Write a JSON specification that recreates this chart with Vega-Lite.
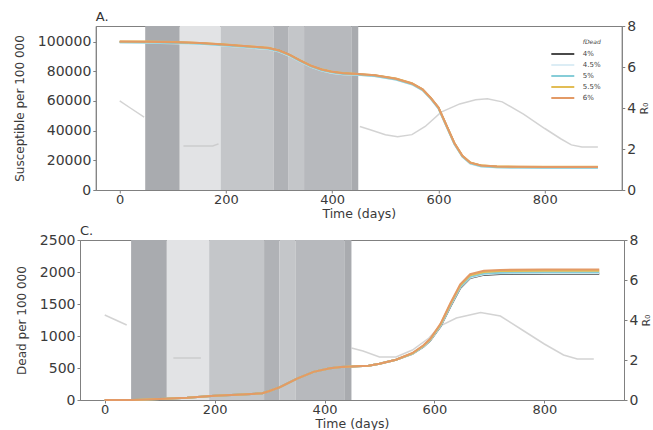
{
  "$schema": "https://vega.github.io/schema/vega-lite/v6.json",
  "padding": {"left": 12, "top": 10, "right": 0, "bottom": 0},
  "background": "white",
  "spacing": 4,
  "center": true,
  "datasets": {
    "bands": [
      {"start": 48, "end": 113, "level": "L5"},
      {"start": 113, "end": 190, "level": "L1"},
      {"start": 190, "end": 290, "level": "L2"},
      {"start": 290, "end": 318, "level": "L4"},
      {"start": 318, "end": 347, "level": "L2"},
      {"start": 347, "end": 436, "level": "L3"},
      {"start": 436, "end": 449, "level": "L5"}
    ],
    "susc": [
      {"day": 0, "p4": 99800, "p45": 99300, "p5": 99500, "p55": 100100, "p6": 100000},
      {"day": 50, "p4": 99700, "p45": 99200, "p5": 99400, "p55": 100000, "p6": 99900},
      {"day": 100, "p4": 99400, "p45": 98900, "p5": 99100, "p55": 99700, "p6": 99600},
      {"day": 130, "p4": 99100, "p45": 98600, "p5": 98800, "p55": 99400, "p6": 99300},
      {"day": 160, "p4": 98600, "p45": 98100, "p5": 98300, "p55": 98900, "p6": 98800},
      {"day": 200, "p4": 97700, "p45": 97200, "p5": 97400, "p55": 98000, "p6": 97900},
      {"day": 240, "p4": 96600, "p45": 96100, "p5": 96300, "p55": 96900, "p6": 96800},
      {"day": 280, "p4": 95500, "p45": 95000, "p5": 95200, "p55": 95800, "p6": 95700},
      {"day": 300, "p4": 93800, "p45": 93300, "p5": 93500, "p55": 94100, "p6": 94000},
      {"day": 320, "p4": 90800, "p45": 90300, "p5": 90500, "p55": 91100, "p6": 91000},
      {"day": 340, "p4": 87000, "p45": 86500, "p5": 86700, "p55": 87300, "p6": 87200},
      {"day": 360, "p4": 83500, "p45": 83000, "p5": 83200, "p55": 83800, "p6": 83700},
      {"day": 380, "p4": 81000, "p45": 80500, "p5": 80700, "p55": 81300, "p6": 81200},
      {"day": 400, "p4": 79400, "p45": 78900, "p5": 79100, "p55": 79700, "p6": 79600},
      {"day": 420, "p4": 78500, "p45": 78000, "p5": 78200, "p55": 78800, "p6": 78700},
      {"day": 449, "p4": 77900, "p45": 77400, "p5": 77600, "p55": 78200, "p6": 78100},
      {"day": 480, "p4": 77100, "p45": 76600, "p5": 76800, "p55": 77400, "p6": 77300},
      {"day": 520, "p4": 74800, "p45": 74300, "p5": 74500, "p55": 75100, "p6": 75000},
      {"day": 550, "p4": 71600, "p45": 71100, "p5": 71300, "p55": 71900, "p6": 71800},
      {"day": 570, "p4": 67600, "p45": 67100, "p5": 67300, "p55": 67900, "p6": 67800},
      {"day": 585, "p4": 62000, "p45": 61500, "p5": 61700, "p55": 62300, "p6": 62200},
      {"day": 600, "p4": 55300, "p45": 54800, "p5": 55000, "p55": 55600, "p6": 55500},
      {"day": 615, "p4": 43300, "p45": 42800, "p5": 43000, "p55": 43600, "p6": 43500},
      {"day": 630, "p4": 31300, "p45": 30800, "p5": 31000, "p55": 31600, "p6": 31500},
      {"day": 645, "p4": 22800, "p45": 22300, "p5": 22500, "p55": 23100, "p6": 23000},
      {"day": 660, "p4": 18200, "p45": 17700, "p5": 17900, "p55": 18500, "p6": 18400},
      {"day": 680, "p4": 16300, "p45": 15800, "p5": 16000, "p55": 16600, "p6": 16500},
      {"day": 710, "p4": 15600, "p45": 15100, "p5": 15300, "p55": 15900, "p6": 15800},
      {"day": 750, "p4": 15400, "p45": 14900, "p5": 15100, "p55": 15700, "p6": 15600},
      {"day": 800, "p4": 15300, "p45": 14800, "p5": 15000, "p55": 15600, "p6": 15500},
      {"day": 900, "p4": 15300, "p45": 14800, "p5": 15000, "p55": 15600, "p6": 15500}
    ],
    "dead": [
      {"day": 0, "p4": 0, "p45": 0, "p5": 0, "p55": 0, "p6": 0},
      {"day": 50, "p4": 0, "p45": 0, "p5": 0, "p55": 0, "p6": 0},
      {"day": 100, "p4": 15, "p45": 15, "p5": 15, "p55": 15, "p6": 15},
      {"day": 150, "p4": 35, "p45": 35, "p5": 35, "p55": 35, "p6": 35},
      {"day": 175, "p4": 52, "p45": 52, "p5": 52, "p55": 52, "p6": 52},
      {"day": 200, "p4": 65, "p45": 65, "p5": 65, "p55": 65, "p6": 65},
      {"day": 250, "p4": 85, "p45": 85, "p5": 85, "p55": 85, "p6": 85},
      {"day": 287, "p4": 105, "p45": 105, "p5": 105, "p55": 105, "p6": 105},
      {"day": 300, "p4": 140, "p45": 140, "p5": 140, "p55": 140, "p6": 140},
      {"day": 320, "p4": 205, "p45": 205, "p5": 205, "p55": 205, "p6": 205},
      {"day": 350, "p4": 335, "p45": 335, "p5": 335, "p55": 335, "p6": 335},
      {"day": 380, "p4": 440, "p45": 440, "p5": 440, "p55": 440, "p6": 440},
      {"day": 410, "p4": 495, "p45": 495, "p5": 495, "p55": 495, "p6": 495},
      {"day": 430, "p4": 515, "p45": 515, "p5": 515, "p55": 515, "p6": 515},
      {"day": 449, "p4": 522, "p45": 522, "p5": 522, "p55": 522, "p6": 522},
      {"day": 480, "p4": 535, "p45": 535, "p5": 535, "p55": 535, "p6": 535},
      {"day": 500, "p4": 565, "p45": 565, "p5": 565, "p55": 565, "p6": 565},
      {"day": 530, "p4": 630, "p45": 630, "p5": 630, "p55": 630, "p6": 630},
      {"day": 560, "p4": 720, "p45": 722, "p5": 725, "p55": 730, "p6": 735},
      {"day": 580, "p4": 832, "p45": 836, "p5": 840, "p55": 848, "p6": 855},
      {"day": 592, "p4": 925, "p45": 930, "p5": 935, "p55": 945, "p6": 952},
      {"day": 611, "p4": 1150, "p45": 1158, "p5": 1165, "p55": 1180, "p6": 1190},
      {"day": 629, "p4": 1462, "p45": 1472, "p5": 1480, "p55": 1498, "p6": 1512},
      {"day": 647, "p4": 1750, "p45": 1760, "p5": 1770, "p55": 1792, "p6": 1808},
      {"day": 665, "p4": 1905, "p45": 1915, "p5": 1925, "p55": 1948, "p6": 1966},
      {"day": 690, "p4": 1955, "p45": 1965, "p5": 1975, "p55": 2000, "p6": 2018},
      {"day": 720, "p4": 1968, "p45": 1980, "p5": 1990, "p55": 2015, "p6": 2033},
      {"day": 800, "p4": 1974, "p45": 1985, "p5": 1995, "p55": 2020, "p6": 2039},
      {"day": 900, "p4": 1974, "p45": 1985, "p5": 1995, "p55": 2020, "p6": 2039}
    ],
    "r0top": [
      {"day": 0, "r0": 4.35, "seg": "a"},
      {"day": 20, "r0": 4.0, "seg": "a"},
      {"day": 46, "r0": 3.55, "seg": "a"},
      {"day": 120, "r0": 2.15, "seg": "b"},
      {"day": 175, "r0": 2.15, "seg": "b"},
      {"day": 186, "r0": 2.25, "seg": "b"},
      {"day": 452, "r0": 3.1, "seg": "c"},
      {"day": 470, "r0": 2.95, "seg": "c"},
      {"day": 500, "r0": 2.7, "seg": "c"},
      {"day": 523, "r0": 2.6, "seg": "c"},
      {"day": 550, "r0": 2.7, "seg": "c"},
      {"day": 575, "r0": 3.1, "seg": "c"},
      {"day": 605, "r0": 3.8, "seg": "c"},
      {"day": 640, "r0": 4.2, "seg": "c"},
      {"day": 670, "r0": 4.4, "seg": "c"},
      {"day": 692, "r0": 4.45, "seg": "c"},
      {"day": 720, "r0": 4.3, "seg": "c"},
      {"day": 760, "r0": 3.7, "seg": "c"},
      {"day": 800, "r0": 3.0, "seg": "c"},
      {"day": 830, "r0": 2.5, "seg": "c"},
      {"day": 850, "r0": 2.2, "seg": "c"},
      {"day": 870, "r0": 2.1, "seg": "c"},
      {"day": 900, "r0": 2.1, "seg": "c"}
    ],
    "r0bot": [
      {"day": 0, "r0": 4.25, "seg": "a"},
      {"day": 40, "r0": 3.75, "seg": "a"},
      {"day": 125, "r0": 2.1, "seg": "b"},
      {"day": 175, "r0": 2.1, "seg": "b"},
      {"day": 449, "r0": 2.6, "seg": "c"},
      {"day": 470, "r0": 2.45, "seg": "c"},
      {"day": 500, "r0": 2.15, "seg": "c"},
      {"day": 530, "r0": 2.15, "seg": "c"},
      {"day": 560, "r0": 2.5, "seg": "c"},
      {"day": 590, "r0": 3.1, "seg": "c"},
      {"day": 610, "r0": 3.7, "seg": "c"},
      {"day": 640, "r0": 4.1, "seg": "c"},
      {"day": 684, "r0": 4.37, "seg": "c"},
      {"day": 720, "r0": 4.2, "seg": "c"},
      {"day": 760, "r0": 3.5, "seg": "c"},
      {"day": 800, "r0": 2.8, "seg": "c"},
      {"day": 835, "r0": 2.25, "seg": "c"},
      {"day": 860, "r0": 2.05, "seg": "c"},
      {"day": 890, "r0": 2.05, "seg": "c"}
    ]
  },
  "resolve": {"legend": {"color": "independent"}},
  "vconcat": [
    {
      "width": 526,
      "height": 164,
      "title": {"text": "A.", "anchor": "start", "frame": "group", "fontSize": 13, "fontWeight": "normal", "font": "DejaVu Sans", "color": "#333", "offset": -5},
      "resolve": {"scale": {"y": "independent"}},
      "layer": [
        {
          "data": {"name": "bands"},
          "mark": {"type": "rect", "strokeWidth": 0},
          "encoding": {
            "x": {"field": "start", "type": "quantitative", "scale": {"domain": [-45, 945], "nice": false, "zero": false}, "title": "Time (days)", "axis": {"values": [0, 200, 400, 600, 800]}},
            "x2": {"field": "end"},
            "fill": {"field": "level", "type": "nominal", "scale": {"domain": ["L1", "L2", "L3", "L4", "L5"], "range": ["#e2e3e5", "#c4c6c9", "#b7b9bd", "#b0b2b6", "#a9abaf"]}, "legend": null}
          }
        },
        {
          "data": {"name": "r0top"},
          "mark": {"type": "line", "color": "#c4c4c4", "strokeWidth": 1.5, "opacity": 0.75},
          "encoding": {
            "x": {"field": "day", "type": "quantitative", "scale": {"domain": [-45, 945], "nice": false, "zero": false}, "title": "Time (days)"},
            "y": {"field": "r0", "type": "quantitative", "scale": {"domain": [0, 8], "nice": false}, "title": "R₀", "axis": {"orient": "right", "values": [0, 2, 4, 6, 8], "titleAngle": 270, "titleBaseline": "top", "titlePadding": 3, "titleFontSize": 11}},
            "detail": {"field": "seg", "type": "nominal"}
          }
        },
        {
          "data": {"name": "susc"},
          "transform": [{"fold": ["p4", "p45", "p5", "p55", "p6"], "as": ["fdead", "S"]}],
          "mark": {"type": "line", "strokeWidth": 2},
          "encoding": {
            "x": {"field": "day", "type": "quantitative", "scale": {"domain": [-45, 945], "nice": false, "zero": false}, "title": "Time (days)"},
            "y": {"field": "S", "type": "quantitative", "scale": {"domain": [0, 110500], "nice": false}, "title": "Susceptible per 100 000", "axis": {"orient": "left", "values": [0, 20000, 40000, 60000, 80000, 100000], "format": "d", "titlePadding": 11}},
            "color": {"field": "fdead", "type": "nominal", "scale": {"domain": ["p4", "p45", "p5", "p55", "p6"], "range": ["#4a4a4a", "#dcedf5", "#86cdd8", "#e2bd55", "#e39a66"]},
              "legend": {"orient": "none", "legendX": 460, "legendY": 13, "title": "fDead", "titleAnchor": "end", "titleFontSize": 6, "titleFontStyle": "italic", "titleFontWeight": "normal", "titleColor": "#444", "titlePadding": 2, "labelFontSize": 7, "labelColor": "#444", "labelFont": "DejaVu Sans", "symbolType": "M-2,0H2", "symbolSize": 132, "symbolStrokeWidth": 2, "symbolFillColor": "transparent", "labelOffset": 13, "rowPadding": 0, "padding": 0,
                "labelExpr": "{'p4': '4%', 'p45': '4.5%', 'p5': '5%', 'p55': '5.5%', 'p6': '6%'}[datum.label]"}}
          }
        }
      ]
    },
    {
      "resolve": {"legend": {"color": "independent"}},
      "spacing": 0,
      "hconcat": [
        {
          "width": 544,
          "height": 160,
          "title": {"text": "C.", "anchor": "start", "frame": "group", "fontSize": 13, "fontWeight": "normal", "font": "DejaVu Sans", "color": "#333", "offset": -5},
          "resolve": {"scale": {"y": "independent"}},
          "layer": [
            {
              "data": {"name": "bands"},
              "mark": {"type": "rect", "strokeWidth": 0},
              "encoding": {
                "x": {"field": "start", "type": "quantitative", "scale": {"domain": [-45, 945], "nice": false, "zero": false}, "title": "Time (days)", "axis": {"values": [0, 200, 400, 600, 800]}},
                "x2": {"field": "end"},
                "fill": {"field": "level", "type": "nominal", "scale": {"domain": ["L1", "L2", "L3", "L4", "L5"], "range": ["#e2e3e5", "#c4c6c9", "#b7b9bd", "#b0b2b6", "#a9abaf"]}, "legend": null}
              }
            },
            {
              "data": {"name": "r0bot"},
              "mark": {"type": "line", "color": "#c4c4c4", "strokeWidth": 1.5, "opacity": 0.75},
              "encoding": {
                "x": {"field": "day", "type": "quantitative", "scale": {"domain": [-45, 945], "nice": false, "zero": false}, "title": "Time (days)"},
                "y": {"field": "r0", "type": "quantitative", "scale": {"domain": [0, 8], "nice": false}, "title": "R₀", "axis": {"orient": "right", "values": [0, 2, 4, 6, 8], "titleAngle": 270, "titleBaseline": "top", "titlePadding": 3, "titleFontSize": 11}},
                "detail": {"field": "seg", "type": "nominal"}
              }
            },
            {
              "data": {"name": "dead"},
              "transform": [{"fold": ["p4", "p45", "p5", "p55", "p6"], "as": ["fdead", "D"]}],
              "mark": {"type": "line", "strokeWidth": 2},
              "encoding": {
                "x": {"field": "day", "type": "quantitative", "scale": {"domain": [-45, 945], "nice": false, "zero": false}, "title": "Time (days)"},
                "y": {"field": "D", "type": "quantitative", "scale": {"domain": [0, 2500], "nice": false}, "title": "Dead per 100 000", "axis": {"orient": "left", "values": [0, 500, 1000, 1500, 2000, 2500], "format": "d", "titlePadding": 11}},
                "color": {"field": "fdead", "type": "nominal", "scale": {"domain": ["p4", "p45", "p5", "p55", "p6"], "range": ["#4a4a4a", "#dcedf5", "#86cdd8", "#e2bd55", "#e39a66"]}, "legend": null}
              }
            }
          ]
        },
        {
          "width": 13,
          "height": 10,
          "data": {"values": []},
          "mark": {"type": "point", "opacity": 0},
          "view": {"stroke": null, "fill": null}
        }
      ]
    }
  ],
  "config": {
    "font": "DejaVu Sans",
    "view": {"stroke": "#808080", "strokeWidth": 1},
    "axis": {
      "labelFont": "DejaVu Sans", "labelFontSize": 14, "labelColor": "#3a3a3a",
      "titleFont": "DejaVu Sans", "titleFontSize": 12, "titleFontWeight": "normal", "titleColor": "#3a3a3a",
      "domainColor": "#808080", "tickColor": "#808080", "tickSize": 3, "labelPadding": 2, "grid": false
    },
    "axisX": {"labelPadding": 0, "titlePadding": 1, "labelFontSize": 13, "titleFontSize": 12.5}
  }
}
